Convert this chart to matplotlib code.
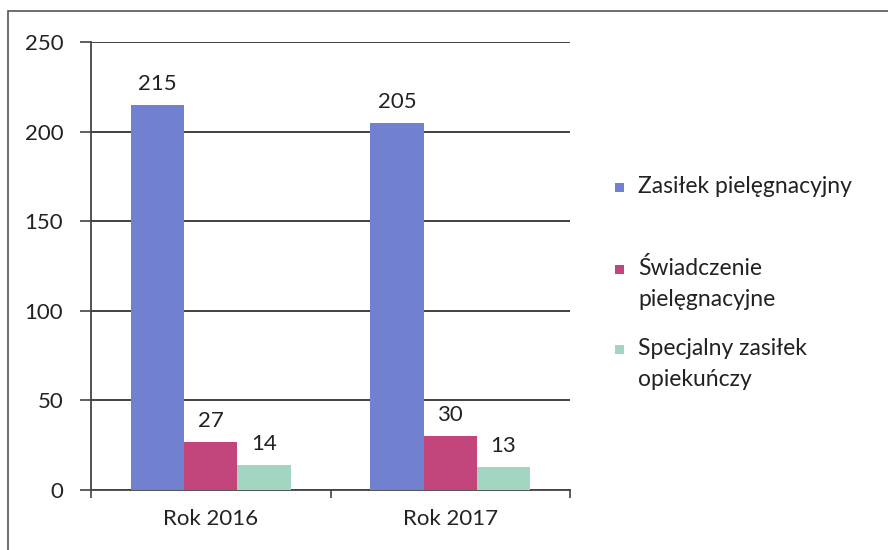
import numpy as np
import matplotlib.pyplot as plt
from matplotlib.patches import Rectangle

categories = ['Rok 2016', 'Rok 2017']
series_names = ['Zasiłek pielęgnacyjny', 'Świadczenie\npielęgnacyjne', 'Specjalny zasiłek\nopiekuńczy']
zasilek = [215, 205]
swiadczenie = [27, 30]
specjalny = [14, 13]
colors = ['#7181cf', '#c2457c', '#a3d6c0']

plt.rcParams['font.family'] = ['Lato', 'DejaVu Sans']
txt_color = '#222222'

fig = plt.figure(figsize=(8.88, 5.5), dpi=100)
ax = fig.add_axes([91 / 888, 60 / 550, 479 / 888, 448 / 550])

# outer chart border (scanned frame)
fig.patches.append(Rectangle((8 / 888, -0.05), 1.0, 1.05 - 11 / 550, transform=fig.transFigure,
                             fill=False, edgecolor='#555555', linewidth=1.2))

x = np.arange(len(categories))
w = 1 / 4.5
for i, vals in enumerate([zasilek, swiadczenie, specjalny]):
    bars = ax.bar(x + (i - 1) * w, vals, w, color=colors[i], zorder=3)
    for b, v in zip(bars, vals):
        ax.text(b.get_x() + b.get_width() / 2, v + 6, str(v), ha='center', va='bottom',
                fontsize=16, color=txt_color)

ax.set_xlim(-0.5, 1.5)
ax.set_ylim(0, 250)
ax.set_yticks(range(0, 251, 50))
ax.yaxis.grid(True, color='#333333', linewidth=1.3, zorder=0)
ax.set_xticks([-0.5, 0.5, 1.5])
ax.set_xticklabels([])
ax.set_xticks(x, minor=True)
ax.set_xticklabels(categories, minor=True, fontsize=16, color=txt_color)
ax.tick_params(axis='x', which='minor', length=0, pad=14)
ax.tick_params(axis='x', which='major', length=6, width=1.2, color='#444444', direction='out')
ax.tick_params(axis='y', length=8, width=1.2, color='#444444', labelsize=16, labelcolor=txt_color, pad=12)

for s in ['top', 'right']:
    ax.spines[s].set_visible(False)
ax.spines['left'].set_color('#444444')
ax.spines['left'].set_linewidth(1.3)
ax.spines['bottom'].set_color('#444444')
ax.spines['bottom'].set_linewidth(1.3)

# legend drawn by hand to keep the uneven spacing of the original
legend_baselines = [193, 275, 355]
for name, col, yb in zip(series_names, colors, legend_baselines):
    fig.patches.append(Rectangle((615 / 888, 1 - (yb - 1) / 550), 9 / 888, 9 / 550,
                                 transform=fig.transFigure, facecolor=col, edgecolor='none'))
    fig.text(638 / 888, 1 - yb / 550, name.split('\n')[0], fontsize=16.5, color=txt_color, va='baseline')
    if '\n' in name:
        fig.text(638 / 888, 1 - (yb + 31) / 550, name.split('\n')[1], fontsize=16.5, color=txt_color,
                 va='baseline')

fig.savefig('out.png', dpi=100)
